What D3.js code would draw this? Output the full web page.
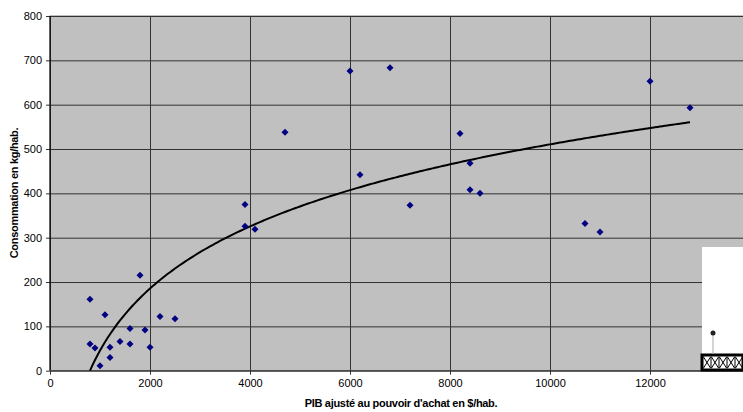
<!DOCTYPE html>
<html>
<head>
<meta charset="utf-8">
<script src="https://cdn.jsdelivr.net/npm/d3@7"></script>
<style>
	body { margin: 0; background: #fff; }
	svg { display: block; font-family: "Liberation Sans", Arial, sans-serif; }
</style>
</head>
<body>
<svg></svg>
<script>
// PIB ($/hab.) et consommation (kg/hab.)
const pib = [800, 1800, 1100, 2200, 2500, 1600, 1900, 800, 900, 1200, 1400, 1600, 2000, 1200, 1000,
	3900, 3900, 4100, 4700, 6000, 6800, 6200, 7200, 8200, 8400, 8400, 8600, 10700, 11000, 12000, 12800];
const conso = [161, 215, 126, 122, 117, 95, 92, 60, 51, 53, 66, 60, 53, 30, 11,
	375, 326, 319, 538, 676, 683, 442, 373, 535, 468, 408, 400, 332, 313, 653, 593];
const xTicks = [0, 2000, 4000, 6000, 8000, 10000, 12000];
const yTicks = [0, 100, 200, 300, 400, 500, 600, 700, 800];
// courbe de tendance logarithmique y = a ln(x) + b
const trendA = 202;
const trendB = -1350;
const trendRange = [800, 12800];

function drawChart() {
	const width = 743;
	const height = 412;
	const left = 50, top = 16, bottom = 370.7, right = 750;

	let xScale = d3.scaleLinear().domain([0, 14000]).range([left, right]);
	let yScale = d3.scaleLinear().domain([0, 800]).range([bottom, top]);

	let svg = d3.select("svg")
		.attr("width", width)
		.attr("height", height);

	svg.append("rect")
		.attr("x", left)
		.attr("y", top)
		.attr("width", right - left)
		.attr("height", bottom - top)
		.attr("fill", "#c0c0c0")
		.attr("stroke", "#808080");

	let xAxis = d3.axisBottom(xScale)
		.tickValues(xTicks)
		.tickSize(-(bottom - top))
		.tickSizeOuter(0)
		.tickPadding(9)
		.tickFormat(d3.format("d"));

	let yAxis = d3.axisLeft(yScale)
		.tickValues(yTicks)
		.tickSize(-(right - left))
		.tickSizeOuter(0)
		.tickPadding(8)
		.tickFormat(d3.format("d"));

	let gx = svg.append("g")
		.attr("transform", `translate(0, ${bottom})`)
		.call(xAxis);
	gx.select(".domain").remove();
	gx.selectAll("line").attr("stroke", "#333").attr("y2", -(bottom - top)).attr("y1", 4);
	gx.selectAll("text").attr("fill", "#000").style("font-size", "11px");

	let gy = svg.append("g")
		.attr("transform", `translate(${left}, 0)`)
		.call(yAxis);
	gy.select(".domain").remove();
	gy.selectAll("line").attr("stroke", "#333").attr("x1", -4);
	gy.selectAll("text").attr("fill", "#000").style("font-size", "11px");

	svg.append("line")
		.attr("x1", left).attr("x2", left)
		.attr("y1", top).attr("y2", bottom)
		.attr("stroke", "#000");
	svg.append("line")
		.attr("x1", left).attr("x2", right)
		.attr("y1", bottom).attr("y2", bottom)
		.attr("stroke", "#444");

	// courbe de tendance
	let trendX = d3.range(trendRange[0], trendRange[1] + 1, 50);
	let line = d3.line()
		.x((d) => xScale(d))
		.y((d) => yScale(trendA * Math.log(d) + trendB))
		.curve(d3.curveLinear);
	svg.append("path")
		.datum(trendX)
		.attr("d", line)
		.attr("fill", "none")
		.attr("stroke", "#000")
		.attr("stroke-width", 2);

	svg.selectAll(".dot")
		.data(pib)
		.enter()
		.append("path")
			.classed("dot", true)
			.attr("transform", (d, i) => `translate(${xScale(d)}, ${yScale(conso[i])})`)
			.attr("d", "M0,-3.5L3.5,0L0,3.5L-3.5,0Z")
			.attr("fill", "#000080");

	// petit encart en bas à droite
	svg.append("rect")
		.attr("x", 702).attr("y", 247)
		.attr("width", 41).attr("height", 108)
		.attr("fill", "#fff");
	svg.append("rect")
		.attr("x", 702).attr("y", 355)
		.attr("width", 41).attr("height", 15)
		.attr("fill", "#fff")
		.attr("stroke", "#000")
		.attr("stroke-width", 3);
	for (let i = 0; i < 6; i++) {
		let cx = 703.5 + i * 8;
		svg.append("path")
			.attr("d", `M${cx},357L${cx + 7},368M${cx + 7},357L${cx},368M${cx + 7.5},356.5V368.5`)
			.attr("stroke", "#000")
			.attr("stroke-width", 1)
			.attr("fill", "none");
	}
	svg.append("line")
		.attr("x1", 713).attr("x2", 713)
		.attr("y1", 335).attr("y2", 354)
		.attr("stroke", "#aaa");
	svg.append("circle")
		.attr("cx", 713).attr("cy", 333)
		.attr("r", 2.5)
		.attr("fill", "#222");

	svg.append("text")
		.attr("transform", "rotate(-90)")
		.attr("x", -193)
		.attr("y", 18)
		.style("text-anchor", "middle")
		.style("font-size", "11px")
		.style("font-weight", "bold")
		.style("letter-spacing", "-0.3px")
		.text("Consommation en kg/hab.");

	svg.append("text")
		.attr("x", 401)
		.attr("y", 407)
		.style("text-anchor", "middle")
		.style("font-size", "11px")
		.style("font-weight", "bold")
		.style("letter-spacing", "-0.3px")
		.text("PIB ajusté au pouvoir d'achat en $/hab.");
}

document.addEventListener("DOMContentLoaded", drawChart);
</script>
</body>
</html>
